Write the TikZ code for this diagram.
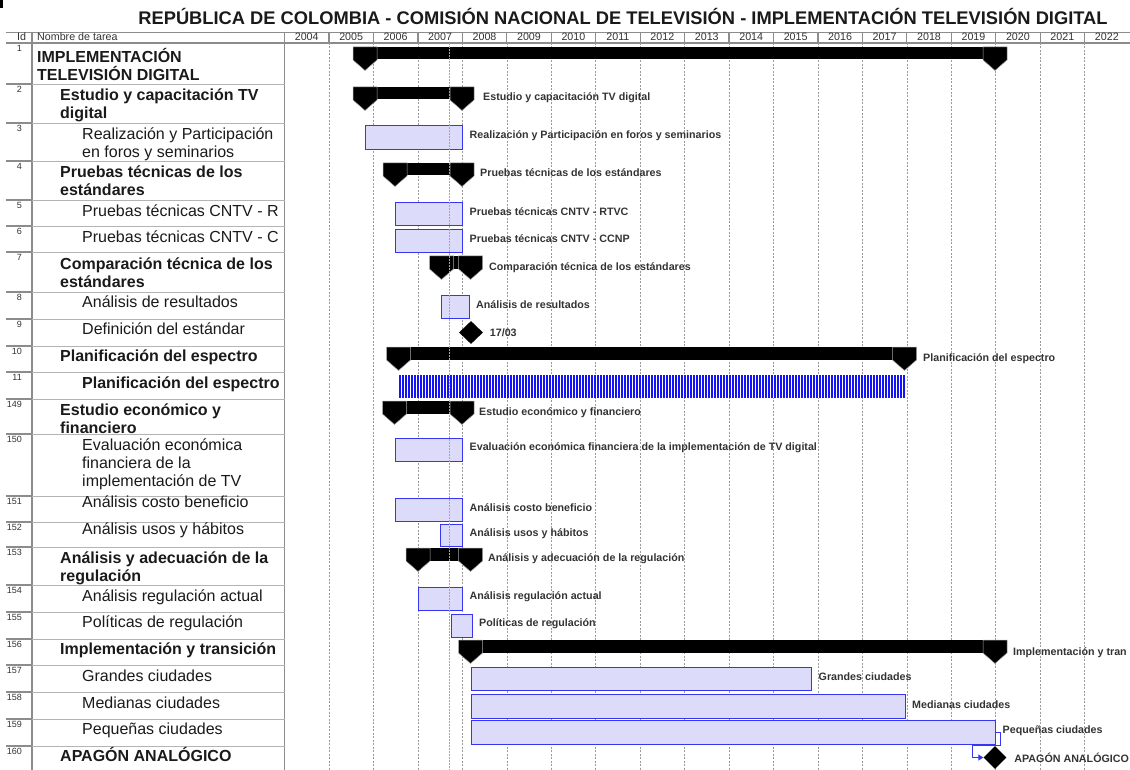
\documentclass[tikz,border=0pt]{standalone}
\usepackage{fontspec}
\setmainfont{Liberation Sans}
\usetikzlibrary{arrows.meta,positioning,calc,shapes.geometric}
\definecolor{ink}{HTML}{1A1A1A}
\definecolor{labInk}{HTML}{333333}
\definecolor{gridC}{HTML}{9A9A9A}
\definecolor{rowLine}{HTML}{B4B4B4}
\definecolor{idLine}{HTML}{8C8C8C}
\definecolor{barFill}{HTML}{DCDCFA}
\definecolor{barLine}{HTML}{3535F2}
\definecolor{stripeC}{HTML}{1414F5}
\tikzset{>={Triangle[length=5pt,width=6pt]},
  ptitle/.style={font=\fontsize{18.3}{20}\selectfont\bfseries,text=ink,anchor=base,inner sep=0pt},
  hdr/.style={font=\fontsize{10.7}{12}\selectfont,text=labInk,anchor=base,inner sep=0pt},
  idnum/.style={font=\fontsize{9}{10}\selectfont,text=labInk,anchor=north east,inner sep=0pt},
  sumname/.style={font=\fontsize{16}{18}\selectfont\bfseries,text=ink,anchor=base west,align=left,inner sep=0pt},
  taskname/.style={font=\fontsize{16}{18}\selectfont,text=ink,anchor=base west,align=left,inner sep=0pt},
  tbar/.style={draw=barLine,fill=barFill,line width=1pt,inner sep=0pt,anchor=north west},
  mstone/.style={diamond,fill=black,inner sep=0pt,minimum width=23pt,minimum height=23pt},
  blab/.style={font=\fontsize{10.7}{12}\selectfont\bfseries,text=labInk,inner sep=0.5pt,anchor=west},
  slab/.style={font=\fontsize{10.7}{12}\selectfont\bfseries,text=labInk,inner sep=0pt,anchor=base west},
  sumend/.style={fill=black,draw=gray!70,line width=0.5pt},
  grid/.style={gridC,line width=0.6pt,dash pattern=on 2pt off 1.5pt},
  today/.style={gray!70,line width=1.2pt,dash pattern=on 2pt off 1pt},
  rowsep/.style={rowLine,line width=0.8pt},
  idsep/.style={idLine,line width=1.4pt},
  colsep/.style={idLine,line width=1.2pt},
  link/.style={->,barLine,line width=1pt}}
\newcommand{\sumbar}[3]{% start, end, top
  \fill[black] (#1,#3) rectangle (#2,#3+12.5);
  \filldraw[sumend] (#1-12,#3) -- (#1+12,#3) -- (#1+12,#3+13) -- (#1,#3+23.5) -- (#1-12,#3+13) -- cycle;
  \filldraw[sumend] (#2-12,#3) -- (#2+12,#3) -- (#2+12,#3+13) -- (#2,#3+23.5) -- (#2-12,#3+13) -- cycle;}
\begin{document}
\begin{tikzpicture}[x=1pt,y=-1pt]
\useasboundingbox (0,0) rectangle (1130,770);
\fill[black] (0,0) rectangle (3,8);
\node[ptitle] (title) at (623,25) {REPÚBLICA DE COLOMBIA - COMISIÓN NACIONAL DE TELEVISIÓN - IMPLEMENTACIÓN TELEVISIÓN DIGITAL};
% header and year columns
\draw[colsep] (6,32.5) -- (1130,32.5);
\draw[colsep] (6,43) -- (1130,43);
\node[hdr] (hid) at (21.5,41) {Id};
\node[hdr,anchor=base west] (hname) at (37,41) {Nombre de tarea};
\foreach \yr [count=\i from 0] in {2004,...,2022}
  \node[hdr] (y\yr) at (306.7+\i*44.45,41) {\yr};
\foreach \k in {0,...,17} {
  \draw[grid] (329+\k*44.45,43) -- (329+\k*44.45,770);
  \draw[colsep] (329+\k*44.45,32.5) -- (329+\k*44.45,43);}
\draw[colsep] (32,32.5) -- (32,770);
\draw[colsep] (284.5,32.5) -- (284.5,770);
\foreach \t in {84,123,161,200,226,252,292,319,346,372,399,434,496,522,547,585,612,639,665,692,719,746} {
  \draw[idsep] (6,\t) -- (32,\t);
  \draw[rowsep] (32,\t) -- (284.5,\t);}
% task table (multi-line names sit on the baseline of their last line)
\node[idnum] (id1) at (22,45) {1};\node[sumname] (n1) at (37,81) {IMPLEMENTACIÓN\\TELEVISIÓN DIGITAL};
\node[idnum] (id2) at (22,86) {2};\node[sumname] (n2) at (60,119) {Estudio y capacitación TV\\digital};
\node[idnum] (id3) at (22,125) {3};\node[taskname] (n3) at (82,158) {Realización y Participación\\en foros y seminarios};
\node[idnum] (id4) at (22,163) {4};\node[sumname] (n4) at (60,196) {Pruebas técnicas de los\\estándares};
\node[idnum] (id5) at (22,202) {5};\node[taskname] (n5) at (82,216.5) {Pruebas técnicas CNTV - R};
\node[idnum] (id6) at (22,228) {6};\node[taskname] (n6) at (82,242.5) {Pruebas técnicas CNTV - C};
\node[idnum] (id7) at (22,254) {7};\node[sumname] (n7) at (60,287.5) {Comparación técnica de los\\estándares};
\node[idnum] (id8) at (22,294) {8};\node[taskname] (n8) at (82,307.5) {Análisis de resultados};
\node[idnum] (id9) at (22,321) {9};\node[taskname] (n9) at (82,334.5) {Definición del estándar};
\node[idnum] (id10) at (22,348) {10};\node[sumname] (n10) at (60,361.5) {Planificación del espectro};
\node[idnum] (id11) at (22,374) {11};\node[sumname] (n11) at (82,388.5) {Planificación del espectro};
\node[idnum] (id149) at (22,401) {149};\node[sumname] (n149) at (60,433.5) {Estudio económico y\\financiero};
\node[idnum] (id150) at (22,436) {150};\node[taskname] (n150) at (82,486.5) {Evaluación económica\\financiera de la\\implementación de TV};
\node[idnum] (id151) at (22,498) {151};\node[taskname] (n151) at (82,507.5) {Análisis costo beneficio};
\node[idnum] (id152) at (22,524) {152};\node[taskname] (n152) at (82,534.5) {Análisis usos y hábitos};
\node[idnum] (id153) at (22,549) {153};\node[sumname] (n153) at (60,581.5) {Análisis y adecuación de la\\regulación};
\node[idnum] (id154) at (22,587) {154};\node[taskname] (n154) at (82,601.5) {Análisis regulación actual};
\node[idnum] (id155) at (22,614) {155};\node[taskname] (n155) at (82,627.5) {Políticas de regulación};
\node[idnum] (id156) at (22,641) {156};\node[sumname] (n156) at (60,654.5) {Implementación y transición};
\node[idnum] (id157) at (22,667) {157};\node[taskname] (n157) at (82,681.5) {Grandes ciudades};
\node[idnum] (id158) at (22,694) {158};\node[taskname] (n158) at (82,708.5) {Medianas ciudades};
\node[idnum] (id159) at (22,721) {159};\node[taskname] (n159) at (82,734.5) {Pequeñas ciudades};
\node[idnum] (id160) at (22,748) {160};\node[sumname] (n160) at (60,761.5) {APAGÓN ANALÓGICO};
% summary bars
\sumbar{365}{995}{47}
\sumbar{365}{462}{87}\node[slab] (s2) at (483,101) {Estudio y capacitación TV digital};
\sumbar{395}{462}{163}\node[slab] (s4) at (480,177) {Pruebas técnicas de los estándares};
\sumbar{441.5}{470.5}{256}\node[slab] (s7) at (489,270) {Comparación técnica de los estándares};
\sumbar{398.5}{904.5}{347}\node[slab] (s10) at (923,361) {Planificación del espectro};
\sumbar{394.5}{462}{401}\node[slab] (s149) at (479,415) {Estudio económico y financiero};
\sumbar{418}{470.5}{548}\node[slab] (s153) at (488,561) {Análisis y adecuación de la regulación};
\sumbar{470.5}{995}{640}\node[slab] (s156) at (1013,655) {Implementación y tran};
% task bars
\node[tbar,minimum width=97pt,minimum height=24pt] (b3) at (365,125) {};
\node[blab,right=6pt of b3,yshift=2pt] (l3) {Realización y Participación en foros y seminarios};
\node[tbar,minimum width=67.5pt,minimum height=23pt] (b5) at (394.5,202) {};
\node[blab,right=6pt of b5,yshift=2pt] (l5) {Pruebas técnicas CNTV - RTVC};
\node[tbar,minimum width=67.5pt,minimum height=23pt] (b6) at (394.5,229) {};
\node[blab,right=6pt of b6,yshift=2pt] (l6) {Pruebas técnicas CNTV - CCNP};
\node[tbar,minimum width=27.5pt,minimum height=23pt] (b8) at (441,294.5) {};
\node[blab,right=6pt of b8,yshift=2pt] (l8) {Análisis de resultados};
\node[mstone,minimum width=24pt] (m9) at (471,332.5) {};
\node[blab,right=6pt of m9] (l9) {17/03};
\fill[stripeC] (398.5,374.5) rectangle (905,397.5);
\foreach \sx in {401,404,...,902} \draw[white,line width=0.9pt] (\sx,374.5) -- (\sx,397.5);
\node[tbar,minimum width=67.5pt,minimum height=23pt] (b150) at (394.5,438) {};
\node[blab,right=6pt of b150,yshift=2pt] (l150) {Evaluación económica financiera de la implementación de TV digital};
\node[tbar,minimum width=67.5pt,minimum height=23pt] (b151) at (394.5,498) {};
\node[blab,right=6pt of b151,yshift=2pt] (l151) {Análisis costo beneficio};
\node[tbar,minimum width=22pt,minimum height=22pt] (b152) at (440,524) {};
\node[blab,right=6pt of b152,yshift=2pt] (l152) {Análisis usos y hábitos};
\node[tbar,minimum width=44pt,minimum height=23pt] (b154) at (418,587) {};
\node[blab,right=6pt of b154,yshift=2pt] (l154) {Análisis regulación actual};
\node[tbar,minimum width=20.5pt,minimum height=23pt] (b155) at (451,614) {};
\node[blab,right=6pt of b155,yshift=2pt] (l155) {Políticas de regulación};
\node[tbar,minimum width=340pt,minimum height=23pt] (b157) at (471,667) {};
\node[blab,right=6pt of b157,yshift=2pt] (l157) {Grandes ciudades};
\node[tbar,minimum width=433.5pt,minimum height=23.5pt] (b158) at (471,694) {};
\node[blab,right=6pt of b158,yshift=2pt] (l158) {Medianas ciudades};
\node[tbar,minimum width=524pt,minimum height=24pt] (b159) at (471,720) {};
\node[blab,right=6pt of b159,yshift=2pt] (l159) {Pequeñas ciudades};
\node[mstone] (m160) at (995,757.5) {};
\node[blab,right=7pt of m160] (l160) {APAGÓN ANALÓGICO};
\coordinate (jog) at ($(m160.west)+(-11,0)$);
\draw[link] (b159.east) -- ++(4.5,0) |- (jog |- b159.south) |- (m160.west);
% status date
\draw[today] (449.5,43) -- (449.5,770);
\end{tikzpicture}
\end{document}
